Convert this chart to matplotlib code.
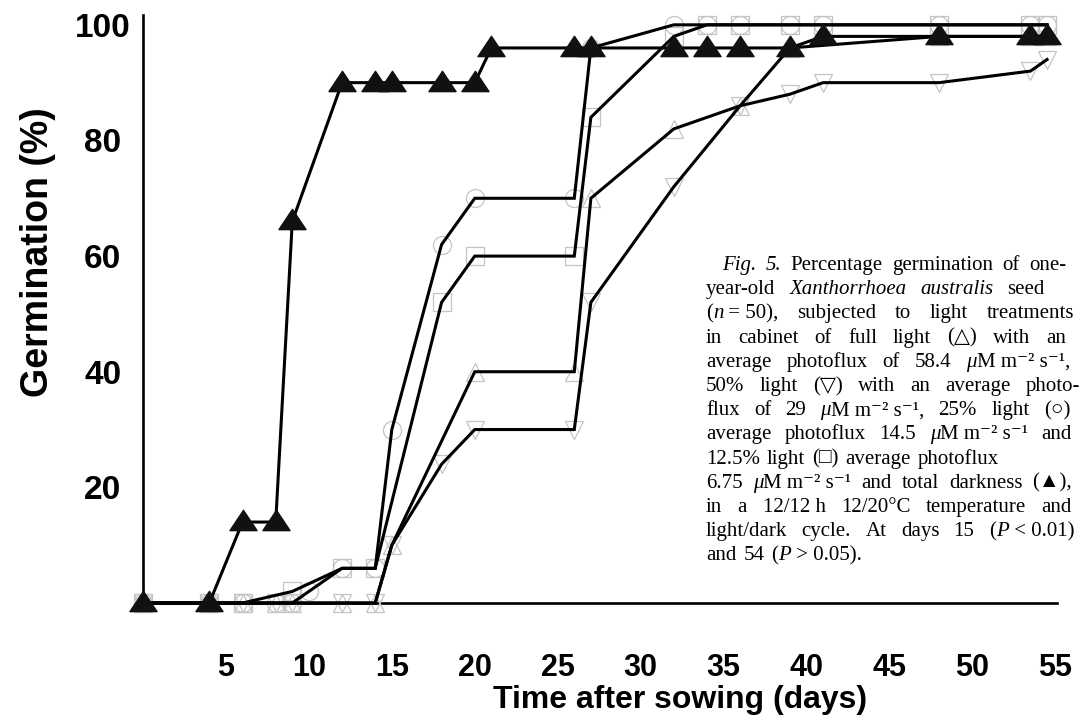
import matplotlib.pyplot as plt
from matplotlib.path import Path

# germination (%), n = 50 seeds
days_dark = [0, 4, 6, 8, 9, 12, 14, 15, 18, 20, 21, 26, 27, 32, 34, 36, 39, 41, 48, 53.5, 54.5]
dark = [0, 0, 14, 14, 66, 90, 90, 90, 90, 90, 96, 96, 96, 96, 96, 96, 96, 98, 98, 98, 98]

days_full = [0, 4, 6, 8, 9, 12, 14, 15, 20, 26, 27, 32, 36, 39, 48, 53.5, 54.5]
full = [0, 0, 0, 0, 0, 0, 0, 10, 40, 40, 70, 82, 86, 96, 98, 98, 98]

days_half = [0, 4, 6, 8, 9, 12, 14, 15, 18, 20, 26, 27, 32, 36, 39, 41, 48, 53.5, 54.5]
half = [0, 0, 0, 0, 0, 0, 0, 10, 24, 30, 30, 52, 72, 86, 88, 90, 90, 92, 94]

days_quarter = [0, 4, 6, 8, 9, 10, 12, 14, 15, 18, 20, 26, 27, 32, 34, 36, 39, 41, 48, 53.5, 54.5]
quarter = [0, 0, 0, 0, 0, 2, 6, 6, 30, 62, 70, 70, 96, 100, 100, 100, 100, 100, 100, 100, 100]

days_eighth = [0, 4, 6, 9, 12, 14, 18, 20, 26, 27, 32, 34, 36, 39, 41, 48, 53.5, 54.5]
eighth = [0, 0, 0, 2, 6, 6, 52, 60, 60, 84, 98, 100, 100, 100, 100, 100, 100, 100]

x_ticks = [5, 10, 15, 20, 25, 30, 35, 40, 45, 50, 55]
y_ticks = [20, 40, 60, 80, 100]

caption_lines = [
    ["~Fig.", "~5.", "Percentage", "germination", "of", "one-"],
    ["year-old", "~Xanthorrhoea", "~australis", "seed"],
    ["(|~n| = 50),", "subjected", "to", "light", "treatments"],
    ["in", "cabinet", "of", "full", "light", "(△)", "with", "an"],
    ["average", "photoflux", "of", "58.4", "~μ|M m⁻² s⁻¹,"],
    ["50%", "light", "(▽)", "with", "an", "average", "photo-"],
    ["flux", "of", "29", "~μ|M m⁻² s⁻¹,", "25%", "light", "(○)"],
    ["average", "photoflux", "14.5", "~μ|M m⁻² s⁻¹", "and"],
    ["12.5%", "light", "(□)", "average", "photoflux"],
    ["6.75", "~μ|M m⁻² s⁻¹", "and", "total", "darkness", "(▲),"],
    ["in", "a", "12/12 h", "12/20°C", "temperature", "and"],
    ["light/dark", "cycle.", "At", "days", "15", "(|~P| < 0.01)"],
    ["and", "54", "(|~P| > 0.05)."],
]
# right end of each caption line in pixels (None = not stretched)
line_ends = [1066, 1045, 1074, 1066, 1070, 1080, 1070, 1072, None, 1072, 1072, 1074, None]

W, H = 1089, 727
fig = plt.figure(figsize=(W / 100, H / 100), dpi=100)
fig.patch.set_facecolor('white')
ax = fig.add_axes([143 / W, 1 - 603 / H, (1057 - 143) / W, (603 - 15) / H])
ax.set_xlim(0, 55.1)
ax.set_ylim(0, 101.7)

faint = '#c4c4c4'
for d, v, m in [(days_full, full, '^'), (days_half, half, 'v'),
                (days_quarter, quarter, 'o'), (days_eighth, eighth, 's')]:
    ax.plot(d, v, color='black', lw=2.2, zorder=2, clip_on=False,
            solid_joinstyle='miter')
    ax.plot(d, v, ls='none', marker=m, ms=13, mfc='none', mec=faint,
            mew=0.9, zorder=1, clip_on=False)

tri = Path([(-1, -0.6), (1, -0.6), (0, 0.9), (-1, -0.6)],
           [Path.MOVETO, Path.LINETO, Path.LINETO, Path.CLOSEPOLY])
ax.plot(days_dark, dark, color='black', lw=2.2, zorder=3, clip_on=False,
        marker=tri, ms=19.5, mfc='#111111', mec='#111111')

for s in ['top', 'right']:
    ax.spines[s].set_visible(False)
for s in ['left', 'bottom']:
    ax.spines[s].set_linewidth(1.9)
    ax.spines[s].set_zorder(0)

ax.set_xticks(x_ticks)
ax.set_yticks(y_ticks)
ax.tick_params(length=0)
ax.tick_params(axis='x', pad=36)
ax.tick_params(axis='y', pad=29)
for lab in ax.get_xticklabels():
    lab.set_family('Liberation Sans')
    lab.set_fontweight('bold')
    lab.set_fontsize(22)
for lab in ax.get_yticklabels():
    lab.set_family('Liberation Sans')
    lab.set_fontweight('bold')
    lab.set_fontsize(24)
    lab.set_horizontalalignment('center')

fig.text(680 / W, 1 - 700 / H, 'Time after sowing (days)', ha='center', va='center',
         family='Liberation Sans', fontweight='bold', fontsize=23)
fig.text(38 / W, 1 - 252 / H, 'Germination (%)', ha='center', va='center', rotation=90,
         family='Liberation Sans', fontweight='bold', fontsize=27)

# caption, drawn word by word so the lines can be stretched
renderer = fig.canvas.get_renderer()
serif = ['Liberation Serif', 'DejaVu Serif']
for i, words in enumerate(caption_lines):
    y = 1 - (270 + i * 24.2) / H
    groups = []
    for w in words:
        pieces = []
        for p in w.split('|'):
            it = p.startswith('~')
            t = fig.text(0, y, p.lstrip('~'), fontsize=15, family=serif,
                         style='italic' if it else 'normal', va='baseline')
            pieces.append((t, t.get_window_extent(renderer).width))
        groups.append(pieces)
    widths = [sum(pw for _, pw in g) for g in groups]
    x0 = 722 if i == 0 else 706
    if line_ends[i] is None:
        gap = 7
    else:
        gap = (line_ends[i] - x0 - sum(widths)) / (len(groups) - 1)
    x = x0
    for g, gw in zip(groups, widths):
        px = x
        for t, pw in g:
            t.set_x(px / W)
            px += pw
        x += gw + gap

fig.savefig('out.png', dpi=100, facecolor='white')
